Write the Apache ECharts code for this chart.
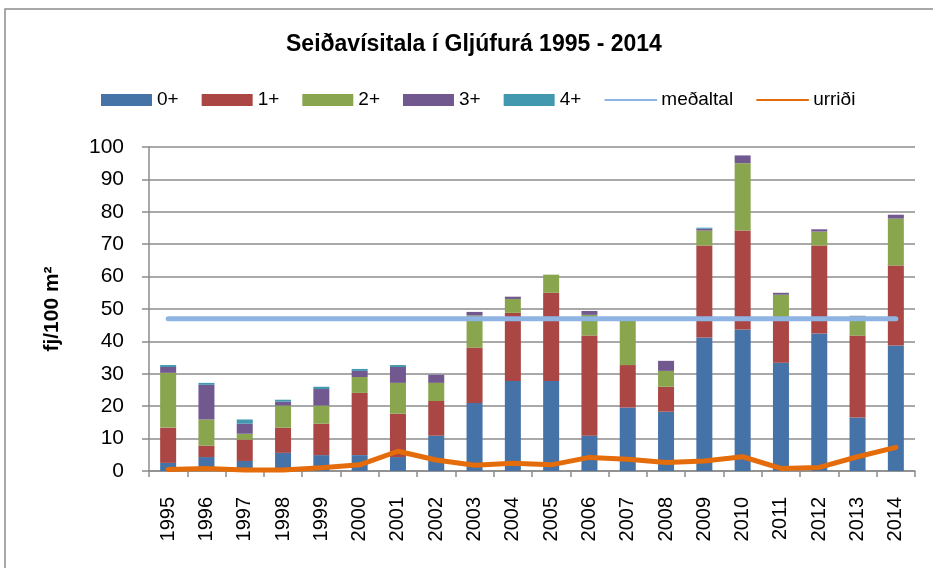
<!DOCTYPE html>
<html>
<head>
<meta charset="utf-8">
<script src="https://cdn.jsdelivr.net/npm/echarts@6/dist/echarts.min.js"></script>
<style>
  html, body { margin: 0; padding: 0; background: #fff; }
  #chart { width: 933px; height: 568px; }
</style>
</head>
<body>
<div id="chart"></div>
<script>
// ár (flokkar)
var years = ['1995','1996','1997','1998','1999','2000','2001','2002','2003','2004',
             '2005','2006','2007','2008','2009','2010','2011','2012','2013','2014'];

// seiðavísitala eftir aldri, fj/100 m2
var age0 = [2.5, 4.3, 3.1, 5.6, 4.9, 4.9, 4.3, 10.9, 21.0, 27.8,
            27.8, 10.9, 19.6, 18.3, 41.2, 43.7, 33.4, 42.4, 16.5, 38.7];
var age1 = [10.9, 3.5, 6.6, 7.8, 9.7, 19.2, 13.4, 10.7, 17.1, 21.0,
            27.2, 30.9, 13.1, 7.7, 28.4, 30.5, 13.1, 27.2, 25.3, 24.7];
var age2 = [16.9, 8.1, 1.8, 6.8, 5.6, 4.9, 9.5, 5.6, 9.9, 4.3,
            5.6, 6.4, 13.6, 4.9, 4.6, 20.8, 7.9, 4.3, 5.9, 14.5];
var age3 = [1.8, 10.7, 3.1, 1.2, 5.1, 1.9, 4.9, 2.5, 1.1, 0.7,
            0, 1.2, 0, 3.1, 0.6, 2.4, 0.6, 0.7, 0.2, 1.2];
var age4 = [0.6, 0.6, 1.3, 0.6, 0.7, 0.6, 0.6, 0, 0, 0,
            0, 0, 0, 0, 0.3, 0, 0, 0, 0, 0];

// meðaltal heildar og urriði
var medaltal = [47.0, 47.0, 47.0, 47.0, 47.0, 47.0, 47.0, 47.0, 47.0, 47.0,
                47.0, 47.0, 47.0, 47.0, 47.0, 47.0, 47.0, 47.0, 47.0, 47.0];
var urridi = [0.5, 0.8, 0.3, 0.3, 1.0, 1.9, 6.1, 3.4, 1.8, 2.4,
              1.9, 4.2, 3.6, 2.6, 3.1, 4.4, 0.8, 1.1, 4.4, 7.3];

var yTicks = [0, 100, 10]; // min, max, bil

var font = 'Liberation Sans, Arial, sans-serif';
var gridGray = '#8c8c8c';

function barSeries(name, data, color) {
    return {
        name: name,
        type: 'bar',
        stack: 'seidi',
        barWidth: 16,
        data: data,
        itemStyle: { color: color },
        emphasis: { disabled: true }
    };
}

var option = {
    animation: false,
    backgroundColor: '#fff',
    textStyle: { fontFamily: font },
    title: {
        text: 'Seiðavísitala í Gljúfurá 1995 - 2014',
        left: 286,
        top: 33,
        padding: 0,
        textStyle: { fontFamily: font, fontSize: 23, fontWeight: 'bold', color: '#000' }
    },
    legend: {
        left: 101,
        top: 90,
        padding: 0,
        itemWidth: 51,
        itemHeight: 12,
        itemGap: 23,
        itemTextGap: 6,
        lineStyle: { width: 2 },
        textStyle: { fontFamily: font, fontSize: 19, color: '#000', lineHeight: 20 },
        data: [
            { name: '0+', icon: 'rect' },
            { name: '1+', icon: 'rect' },
            { name: '2+', icon: 'rect' },
            { name: '3+', icon: 'rect' },
            { name: '4+', icon: 'rect' },
            { name: 'meðaltal', itemStyle: { opacity: 0 } },
            { name: 'urriði', itemStyle: { opacity: 0 } }
        ]
    },
    grid: { left: 149, right: 18, top: 147, bottom: 97 },
    xAxis: {
        type: 'category',
        data: years,
        boundaryGap: true,
        axisLine: { lineStyle: { color: gridGray, width: 1.5 } },
        axisTick: { show: true, inside: false, length: 6, lineStyle: { color: gridGray, width: 1.5 } },
        axisLabel: { rotate: 90, margin: 26, fontFamily: font, fontSize: 20, color: '#000' }
    },
    yAxis: {
        type: 'value',
        min: yTicks[0],
        max: yTicks[1],
        interval: yTicks[2],
        name: 'fj/100 m²',
        nameLocation: 'middle',
        nameGap: 86,
        nameRotate: 90,
        nameTextStyle: { fontFamily: font, fontSize: 21, fontWeight: 'bold', color: '#000' },
        axisLine: { show: true, lineStyle: { color: gridGray, width: 1.5 } },
        axisTick: { show: true, inside: false, length: 7, lineStyle: { color: gridGray, width: 1.5 } },
        axisLabel: { margin: 25, fontFamily: font, fontSize: 21, color: '#000' },
        splitLine: { lineStyle: { color: gridGray, width: 1.5 } }
    },
    graphic: [{
        type: 'rect',
        silent: true,
        shape: { x: 5, y: 9, width: 1000, height: 1000 },
        style: { fill: 'none', stroke: '#8c8c8c', lineWidth: 1.5 }
    }],
    series: [
        barSeries('0+', age0, '#4572A7'),
        barSeries('1+', age1, '#AA4643'),
        barSeries('2+', age2, '#89A54E'),
        barSeries('3+', age3, '#71588F'),
        barSeries('4+', age4, '#4198AF'),
        {
            name: 'meðaltal',
            type: 'line',
            data: medaltal,
            symbol: 'none',
            lineStyle: { color: '#8EB4E3', width: 5, cap: 'round' },
            itemStyle: { color: '#8EB4E3' },
            z: 3
        },
        {
            name: 'urriði',
            type: 'line',
            data: urridi,
            symbol: 'none',
            lineStyle: { color: '#E46C0A', width: 5, cap: 'round', join: 'round' },
            itemStyle: { color: '#E46C0A' },
            z: 4
        }
    ]
};

var myChart = echarts.init(document.getElementById('chart'), null, { renderer: 'canvas' });
myChart.setOption(option);
</script>
</body>
</html>
